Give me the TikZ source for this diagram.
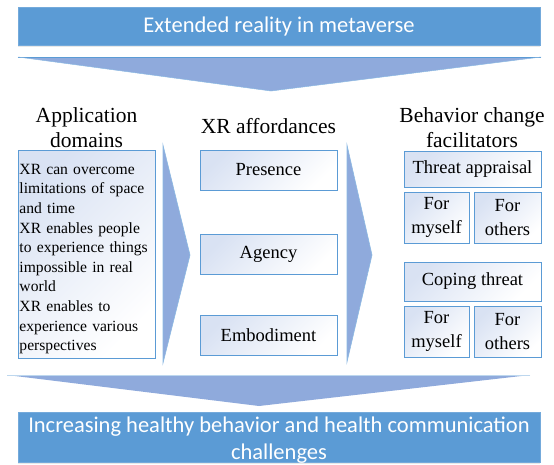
\documentclass[tikz,border=0pt]{standalone}
\usepackage{fontspec}
\setmainfont{Liberation Serif}
\newfontfamily\calfont{Carlito}
\usetikzlibrary{shadows}
\definecolor{barblue}{HTML}{5B9BD5}
\definecolor{arrowfill}{HTML}{8FAADC}
\definecolor{boxedge}{HTML}{5B9BD5}
\definecolor{boxfill}{HTML}{D9E2F3}
\tikzset{
  bar/.style={fill=barblue, draw=barblue!85!white, line width=0.8pt, inner sep=0pt,
    drop shadow={opacity=0.18, shadow xshift=0pt, shadow yshift=-2pt}},
  bartext/.style={text=white, font=\calfont\fontsize{22.5}{27}\selectfont, align=center, inner sep=0pt},
  box/.style={draw=boxedge, line width=0.8pt, top color=boxfill, bottom color=white, shading angle=45,
    inner sep=2pt, align=center, font=\fontsize{18.5}{24}\selectfont},
  header/.style={font=\fontsize{21.5}{25}\selectfont, anchor=base, inner sep=0pt},
  bigarrow/.style={fill=arrowfill, draw=barblue!70!white, line width=0.6pt},
}
\begin{document}
\begin{tikzpicture}[x=1pt,y=-1pt]
\useasboundingbox (0,0) rectangle (554,464);
% top bar
\node[bar, minimum width=522pt, minimum height=38pt] (topbar) at (279,26) {};
\node[bartext] (toptext) at (279,26) {Extended reality in metaverse};
% top down arrow
\coordinate (ta1) at (18,57);
\coordinate (ta2) at (541,57);
\coordinate (ta3) at (271,91);
\fill[arrowfill] (ta1) -- (ta2) -- (ta3) -- cycle;
\draw[barblue, line width=1pt] (ta1) -- (ta2);
\draw[barblue!70!white, line width=0.5pt] (ta1) -- (ta3) -- (ta2);
% headers
\node[header] (h1a) at (86.5,122) {Application};
\node[header] (h1b) at (86.5,147) {domains};
\node[header] (h2) at (268.5,133) {XR affordances};
\node[header] (h3a) at (472,122) {Behavior change};
\node[header] (h3b) at (472,147) {facilitators};
% left box
\node[box, minimum width=137pt, minimum height=208pt] (app) at (86.5,254) {};
\node[text width=134pt, align=left, inner sep=0pt,
  font=\fontsize{15.6}{19.6}\selectfont] (apptext) at (86.5,259)
  {XR can overcome\\limitations of space\\and time\\XR enables people\\to experience things\\impossible in real\\world\\XR enables to\\experience various\\perspectives};
% side arrows
\coordinate (la1) at (163,145);
\coordinate (la2) at (190,255);
\coordinate (la3) at (163,363);
\draw[bigarrow] (la1) -- (la2) -- (la3) -- cycle;
\coordinate (ra1) at (347,145);
\coordinate (ra2) at (372,255);
\coordinate (ra3) at (347,362);
\draw[bigarrow] (ra1) -- (ra2) -- (ra3) -- cycle;
% middle boxes
\node[box, minimum width=137pt, minimum height=40pt] (pres) at (268.5,170) {Presence};
\node[box, minimum width=137pt, minimum height=40pt] (agen) at (268.5,254) {Agency};
\node[box, minimum width=137pt, minimum height=40pt] (embo) at (268.5,335) {Embodiment};
% right boxes
\node[box, minimum width=137pt, minimum height=36pt] (threat) at (472.5,169) {Threat appraisal};
\node[box, minimum width=65pt, minimum height=51pt] (tmy) at (436.5,217.5) {For\\myself};
\node[box, minimum width=67pt, minimum height=51pt] (toth) at (507.5,217.5) {For\\others};
\node[box, minimum width=137pt, minimum height=39pt] (coping) at (472.5,281.5) {Coping threat};
\node[box, minimum width=65pt, minimum height=51pt] (cmy) at (436.5,331.5) {For\\myself};
\node[box, minimum width=67pt, minimum height=51pt] (coth) at (507.5,331.5) {For\\others};
% bottom down arrow
\coordinate (ba1) at (7,375);
\coordinate (ba2) at (530,375);
\coordinate (ba3) at (259,406);
\fill[arrowfill] (ba1) -- (ba2) -- (ba3) -- cycle;
\draw[barblue!40!white, line width=1pt] (ba1) -- (ba2);
% bottom bar
\node[bar, minimum width=522pt, minimum height=50pt] (botbar) at (279,437) {};
\node[bartext] (bottext) at (279,440) {Increasing healthy behavior and health communication\\challenges};
\end{tikzpicture}
\end{document}
